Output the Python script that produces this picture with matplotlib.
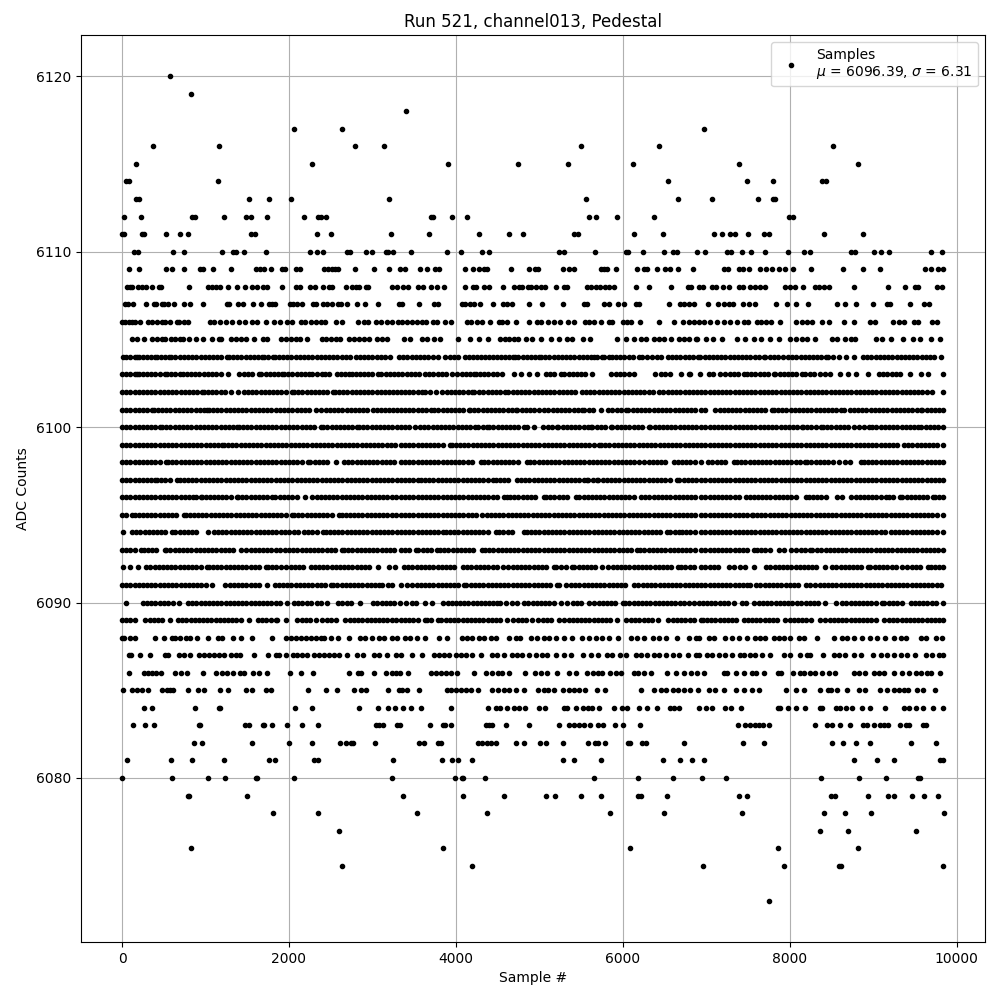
import matplotlib
matplotlib.use("Agg")
import matplotlib.pyplot as plt

s6120 = [572]
s6119 = [824]
s6118 = [3400]
s6117 = [2060, 2636, 6968]
s6116 = [368, 1160, 2792, 3140, 5500, 6436, 8516]
s6115 = [164, 2276, 3904, 4744, 5344, 6124, 7388, 8816]
s6114 = [44, 84, 1148, 6544, 7484, 7796, 8384, 8432]
s6113 = [164, 204, 1520, 1760, 2024, 3200, 5560, 6664, 7064, 7616, 7796, 7828]
s6112 = [20, 224, 836, 868, 1220, 1480, 1548, 1736, 2180, 2348, 2380, 2444, 3696, 3720, 3952, 4132, 5596, 5680, 5932, 6376, 7988, 8036]
s6111 = [0, 28, 240, 268, 524, 692, 788, 1540, 1588, 2336, 2504, 3224, 3676, 4276, 4636, 4804, 5416, 5464, 6136, 6484, 7088, 7184, 7280, 7340, 7496, 7688, 7748, 8408, 8876]
s6110 = [140, 188, 608, 740, 1196, 1332, 1364, 1460, 1724, 2252, 2336, 2408, 2696, 2728, 2924, 2996, 3164, 3188, 3248, 3460, 3892, 4060, 4312, 4396, 5236, 5296, 5668, 6036, 6064, 6244, 6496, 6604, 6644, 6892, 6980, 7248, 7296, 7424, 7532, 7700, 7976, 8168, 8240, 8732, 8780, 9008, 9092, 9188, 9692, 9824]
s6109 = [80, 200, 532, 596, 740, 932, 964, 1088, 1304, 1604, 1652, 1700, 1780, 1920, 1952, 2080, 2128, 2420, 2468, 2516, 2548, 2588, 2792, 3020, 3200, 3336, 3396, 3568, 3652, 3744, 3796, 4108, 4204, 4276, 4336, 4368, 4660, 4876, 4948, 4988, 5284, 5356, 5416, 5736, 5776, 5816, 5920, 6172, 6256, 6296, 6408, 6508, 6568, 6664, 6844, 7208, 7256, 7388, 7440, 7508, 7640, 7720, 7788, 7868, 7940, 8036, 8252, 8636, 8876, 9080, 9620, 9692, 9776, 9840]
s6108 = [60, 100, 124, 188, 236, 284, 356, 440, 472, 800, 1028, 1076, 1124, 1172, 1272, 1376, 1472, 1556, 1612, 1688, 1740, 1916, 2080, 2132, 2252, 2308, 2408, 2480, 2520, 2688, 2760, 2800, 2840, 2920, 2948, 3236, 3300, 3368, 3432, 3544, 3608, 3700, 3772, 3852, 4108, 4204, 4244, 4336, 4396, 4564, 4696, 4756, 4796, 4864, 4896, 4960, 5016, 5072, 5204, 5296, 5328, 5568, 5624, 5676, 5724, 5784, 5836, 5896, 6156, 6316, 6580, 6776, 6816, 6908, 6956, 7068, 7116, 7196, 7268, 7388, 7440, 7520, 7588, 7648, 7708, 7948, 8008, 8068, 8156, 8300, 8348, 8408, 8468, 8768, 9176, 9380, 9496, 9536, 9768, 9828]
s6107 = [32, 76, 128, 284, 380, 412, 476, 508, 548, 620, 740, 812, 968, 1252, 1284, 1388, 1448, 1568, 1664, 1760, 1800, 1832, 2012, 2052, 2100, 2156, 2288, 2328, 2408, 2460, 2516, 2588, 2628, 2696, 2816, 2912, 3068, 3320, 3360, 3556, 3736, 3784, 4076, 4104, 4168, 4216, 4288, 4444, 4564, 4608, 4672, 4876, 5032, 5284, 5536, 5576, 5776, 5836, 5944, 6016, 6156, 6192, 6556, 6688, 6728, 6796, 6848, 7016, 7136, 7208, 7268, 7320, 7436, 7508, 7580, 7832, 7964, 8080, 8216, 8564, 8660, 8792, 8996, 9168, 9200, 9440, 9608, 9668]
s6106 = [0, 40, 80, 120, 160, 220, 308, 360, 420, 480, 520, 572, 652, 680, 740, 788, 1052, 1100, 1172, 1240, 1320, 1400, 1468, 1560, 1620, 1720, 1820, 1892, 1980, 2040, 2140, 2188, 2268, 2320, 2380, 2428, 2560, 2640, 2828, 2900, 2948, 3040, 3100, 3180, 3240, 3308, 3356, 3416, 3476, 3536, 3596, 3636, 3724, 3776, 3868, 3940, 4132, 4184, 4256, 4316, 4408, 4516, 4556, 4612, 4716, 4876, 4976, 5016, 5104, 5176, 5248, 5344, 5416, 5548, 5596, 5656, 5736, 5836, 5876, 6004, 6056, 6104, 6208, 6436, 6616, 6716, 6796, 6848, 6908, 6968, 7048, 7128, 7208, 7288, 7368, 7448, 7496, 7608, 7656, 7720, 7776, 7880, 8072, 8148, 8208, 8268, 8388, 8468, 8652, 8776, 8968, 9020, 9236, 9308, 9368, 9488, 9536, 9708, 9768]
s6105 = [120, 180, 260, 360, 420, 480, 520, 588, 640, 692, 732, 800, 888, 968, 1080, 1160, 1188, 1308, 1360, 1420, 1480, 1580, 1688, 1740, 1900, 1960, 2020, 2080, 2128, 2212, 2392, 2440, 2500, 2560, 2612, 2720, 2780, 2840, 2900, 2960, 3060, 3120, 3172, 3384, 3456, 3596, 3656, 3736, 3808, 4024, 4168, 4276, 4384, 4528, 4584, 4640, 4696, 4744, 4836, 4908, 5020, 5136, 5236, 5336, 5396, 5524, 5608, 5936, 6036, 6136, 6216, 6276, 6376, 6436, 6496, 6576, 6676, 6736, 6796, 6876, 6892, 6992, 7076, 7188, 7364, 7468, 7568, 7656, 7768, 7868, 8000, 8072, 8148, 8208, 8308, 8508, 8568, 8668, 8736, 8788, 9040, 9108, 9208, 9356, 9480, 9560, 9688, 9800]
s6104 = [12,50,100,150,180,200,250,300,350,400,420,470,520,560,588,640,690,740,790,840,890,940,990,1040,1090,1140,1190,1260,1280,1330,1380,1430,1480,1530,1580,1630,1680,1700,1750,1812,1828,1880,1930,1980,2030,2080,2130,2180,2230,2280,2330,2380,2430,2480,2530,2580,2630,2680,2730,2800,2852,2900,2950,3000,3050,3100,3150,3212,3320,3370,3420,3470,3520,3570,3620,3664,3724,3790,3868,3928,3980,4030,4104,4152,4204,4250,4300,4350,4396,4440,4490,4540,4590,4640,4688,4704,4750,4800,4850,4900,4950,4996,5024,5070,5120,5170,5220,5270,5320,5370,5420,5470,5520,5570,5620,5656,5696,5748,5776,5830,5876,5920,5970,6020,6070,6120,6196,6236,6288,6350,6408,6460,6536,6590,6640,6690,6740,6790,6840,6896,6928,6980,7030,7080,7130,7180,7230,7280,7330,7380,7430,7480,7530,7580,7630,7688,7708,7760,7810,7860,7920,7976,8030,8080,8130,8180,8230,8280,8330,8380,8440,8456,8520,8596,8676,8776,8880,8930,8980,9030,9080,9130,9180,9230,9280,9330,9380,9430,9480,9530,9580,9630,9680,9730,9808]
s6103 = [0,50,100,150,180,204,250,300,350,400,450,520,540,590,640,690,732,780,830,868,920,980,1030,1080,1130,1180,1272,1400,1460,1510,1560,1640,1668,1720,1770,1820,1870,1920,1940,1990,2040,2090,2140,2190,2240,2276,2340,2390,2428,2480,2572,2620,2670,2720,2760,2800,2850,2900,2950,3000,3068,3108,3160,3210,3260,3312,3356,3410,3460,3510,3556,3628,3680,3730,3780,3830,3880,3956,4016,4070,4120,4170,4216,4240,4290,4340,4390,4440,4496,4552,4696,4776,4876,4976,5076,5130,5180,5256,5296,5350,5400,5448,5496,5544,5632,5860,5916,5970,6020,6070,6136,6388,6456,6510,6568,6696,6796,6808,6928,7028,7076,7168,7228,7280,7330,7380,7448,7488,7540,7590,7640,7690,7740,7808,7828,7880,7930,7980,8030,8080,8148,8188,8240,8290,8360,8420,8480,8608,8700,8800,8936,9068,9120,9170,9220,9270,9320,9440,9568,9656,9840]
s6102 = [0,50,100,150,200,250,300,350,400,450,500,550,600,650,700,750,800,850,900,960,980,1030,1080,1130,1180,1230,1308,1392,1460,1510,1560,1610,1660,1710,1760,1810,1860,1910,1960,2040,2060,2110,2160,2210,2260,2310,2360,2410,2460,2532,2552,2600,2650,2700,2750,2800,2850,2900,2950,3000,3050,3100,3150,3200,3250,3300,3340,3390,3440,3490,3540,3588,3624,3690,3764,3836,3890,3940,3990,4040,4090,4140,4196,4216,4276,4330,4380,4430,4480,4530,4588,4624,4680,4730,4780,4830,4880,4930,4980,5030,5080,5130,5180,5230,5280,5330,5376,5424,5516,5556,5610,5660,5710,5760,5810,5860,5910,5960,6010,6060,6110,6160,6210,6260,6310,6360,6436,6484,6540,6590,6640,6690,6740,6790,6840,6890,6936,6988,7040,7090,7140,7190,7240,7290,7340,7390,7440,7490,7540,7590,7640,7690,7740,7790,7840,7890,7940,7990,8040,8090,8140,8190,8240,8290,8340,8390,8440,8490,8540,8590,8640,8690,8740,8790,8840,8890,8940,8990,9040,9090,9140,9190,9240,9290,9340,9390,9440,9490,9540,9590,9648,9708,9836]
s6101 = [0,50,100,150,200,250,300,360,380,430,480,530,580,630,680,730,780,830,880,930,980,1020,1040,1090,1140,1190,1240,1290,1340,1390,1440,1490,1540,1590,1640,1690,1740,1790,1840,1890,1940,1990,2040,2090,2140,2190,2240,2320,2380,2440,2490,2540,2590,2640,2690,2740,2790,2840,2890,2940,3012,3052,3100,3150,3200,3250,3300,3340,3390,3440,3490,3540,3590,3640,3696,3736,3790,3840,3890,3940,3990,4040,4090,4156,4168,4220,4270,4320,4370,4420,4470,4520,4570,4620,4670,4716,4736,4790,4840,4890,4940,4996,5052,5104,5160,5210,5260,5310,5360,5410,5460,5516,5536,5590,5640,5736,5824,5876,5930,5980,6036,6064,6120,6170,6220,6270,6320,6370,6420,6470,6520,6570,6620,6670,6720,6770,6820,6870,6936,6988,7108,7160,7210,7260,7310,7360,7410,7460,7510,7560,7610,7660,7710,7788,7808,7860,7910,7960,8010,8060,8110,8160,8210,8260,8310,8360,8410,8460,8510,8560,8616,8656,8728,8768,8820,8870,8920,8970,9020,9070,9120,9170,9220,9270,9320,9370,9420,9470,9520,9568,9588,9640,9690,9740,9790,9840]
s6100 = [0,50,100,150,200,250,300,350,400,460,480,530,580,630,680,730,780,830,880,930,980,1030,1080,1130,1180,1230,1280,1330,1380,1400,1450,1500,1550,1600,1650,1700,1750,1800,1850,1900,1950,2000,2050,2100,2150,2200,2250,2300,2380,2412,2460,2510,2560,2610,2660,2710,2760,2820,2840,2890,2940,2990,3040,3090,3140,3190,3240,3290,3340,3390,3444,3504,3568,3620,3670,3720,3770,3820,3870,3920,3970,4020,4070,4120,4170,4224,4264,4320,4376,4396,4450,4500,4550,4600,4650,4700,4750,4816,4848,4936,5044,5100,5150,5208,5224,5280,5330,5380,5430,5480,5530,5580,5616,5636,5690,5740,5790,5856,5876,5930,5980,6030,6080,6130,6180,6230,6316,6328,6380,6430,6480,6530,6580,6630,6680,6730,6780,6830,6880,6936,6990,7040,7090,7140,7190,7240,7290,7340,7390,7440,7490,7540,7590,7640,7690,7740,7790,7840,7890,7940,7990,8040,8090,8148,8160,8210,8260,8310,8376,8396,8450,8500,8550,8600,8650,8700,8768,8828,8890,8956,8988,9040,9090,9140,9190,9240,9290,9340,9390,9440,9490,9540,9568,9628,9680,9730,9780,9840]
s6099 = [0,50,100,150,200,250,300,350,400,450,500,550,600,650,700,750,800,850,900,950,1000,1050,1100,1150,1200,1220,1270,1320,1370,1420,1470,1520,1570,1620,1670,1720,1770,1820,1870,1920,1970,2020,2070,2120,2170,2220,2270,2320,2370,2420,2470,2520,2570,2620,2670,2720,2770,2820,2870,2920,2970,3020,3070,3120,3170,3220,3270,3340,3390,3440,3490,3540,3590,3640,3690,3740,3790,3840,3924,3948,4000,4050,4100,4150,4200,4250,4300,4350,4400,4450,4500,4550,4600,4650,4700,4750,4800,4850,4900,4950,5000,5050,5100,5150,5200,5250,5300,5350,5400,5450,5500,5550,5600,5650,5716,5736,5790,5840,5890,5940,5990,6040,6090,6140,6190,6240,6290,6340,6390,6440,6490,6540,6590,6640,6690,6740,6790,6840,6890,6940,6990,7040,7090,7140,7190,7240,7290,7340,7390,7440,7490,7540,7590,7640,7690,7740,7790,7840,7890,7940,7990,8040,8090,8140,8190,8240,8290,8340,8390,8440,8490,8540,8590,8640,8690,8740,8790,8840,8890,8940,8990,9040,9090,9140,9190,9240,9290,9368,9416,9470,9520,9570,9620,9670,9720,9770,9840]
s6098 = [0,50,100,150,200,250,300,350,400,450,528,548,600,650,700,750,800,850,900,950,1000,1050,1100,1150,1200,1250,1300,1350,1400,1450,1500,1550,1600,1650,1700,1750,1800,1850,1900,1950,2000,2050,2100,2150,2228,2252,2310,2360,2410,2460,2560,2660,2710,2760,2810,2860,2910,2960,3010,3060,3110,3160,3210,3260,3340,3390,3440,3490,3540,3590,3640,3690,3740,3790,3840,3890,3940,3990,4040,4090,4140,4190,4296,4336,4390,4440,4490,4540,4590,4640,4690,4740,4856,4888,4940,4990,5040,5090,5140,5190,5240,5290,5340,5390,5440,5490,5540,5590,5640,5690,5740,5790,5840,5890,5940,5990,6040,6090,6140,6196,6256,6310,6360,6410,6460,6510,6616,6656,6710,6760,6810,6860,6936,7016,7072,7130,7180,7228,7328,7368,7420,7470,7520,7570,7620,7670,7720,7770,7820,7870,7920,7970,8020,8070,8120,8188,8208,8260,8310,8360,8410,8460,8520,8588,8668,8720,8856,8888,8940,8990,9040,9090,9140,9190,9240,9290,9340,9390,9440,9490,9540,9590,9640,9690,9740,9790,9840]
s6097 = [0,50,100,150,200,250,300,350,400,420,470,520,570,660,692,740,790,840,890,940,990,1040,1090,1140,1190,1240,1290,1340,1390,1440,1490,1540,1590,1640,1690,1740,1790,1840,1890,1940,1990,2040,2090,2140,2190,2240,2290,2340,2390,2440,2490,2540,2590,2640,2690,2740,2790,2840,2890,2940,2990,3040,3090,3140,3190,3240,3290,3340,3390,3440,3490,3544,3576,3630,3680,3730,3780,3830,3880,3930,3980,4030,4080,4130,4180,4230,4280,4330,4380,4448,4476,4530,4580,4630,4728,4780,4828,4880,4930,4980,5030,5080,5130,5180,5230,5280,5330,5380,5430,5480,5530,5568,5584,5640,5696,5704,5760,5810,5860,5910,5960,6010,6060,6110,6160,6210,6260,6310,6360,6410,6460,6510,6560,6648,6676,6730,6780,6830,6880,6936,6990,7040,7090,7140,7190,7240,7290,7340,7390,7440,7490,7540,7590,7640,7690,7740,7790,7840,7890,7940,7990,8040,8090,8140,8190,8240,8290,8340,8390,8440,8490,8540,8590,8640,8690,8740,8790,8840,8890,8940,8990,9040,9090,9140,9190,9240,9290,9340,9390,9440,9490,9540,9590,9640,9690,9740,9790,9840]
s6096 = [0,50,100,150,200,250,300,350,400,450,500,550,600,650,700,750,800,850,890,940,952,1000,1050,1100,1150,1200,1250,1300,1372,1388,1440,1490,1540,1590,1640,1690,1740,1800,1832,1890,1940,1990,2040,2100,2188,2276,2330,2380,2430,2480,2530,2580,2630,2680,2730,2780,2830,2880,2930,2980,3030,3080,3130,3180,3230,3280,3340,3390,3440,3490,3540,3590,3640,3690,3740,3790,3840,3890,3940,3990,4040,4090,4140,4190,4240,4290,4340,4390,4440,4490,4576,4608,4644,4700,4750,4800,4850,4900,4950,5056,5080,5130,5180,5230,5280,5330,5436,5476,5530,5580,5630,5680,5730,5780,5830,5880,5930,5980,6030,6080,6136,6216,6270,6320,6370,6420,6470,6520,6570,6620,6670,6720,6770,6820,6870,6936,6990,7040,7090,7140,7190,7240,7290,7340,7390,7480,7520,7570,7620,7670,7720,7770,7820,7870,7920,7970,8020,8070,8200,8228,8280,8330,8380,8430,8568,8628,8740,8790,8840,8890,8940,8990,9040,9090,9160,9188,9240,9320,9348,9400,9450,9500,9550,9600,9650,9720,9740,9790,9840]
s6095 = [0,50,120,152,200,250,300,350,400,450,500,550,600,650,740,760,810,860,910,960,1010,1060,1110,1160,1210,1260,1310,1360,1410,1460,1510,1560,1610,1660,1710,1760,1810,1860,1910,1960,2032,2060,2110,2160,2210,2260,2310,2360,2410,2460,2510,2600,2632,2680,2730,2780,2830,2880,2930,2980,3030,3080,3130,3180,3230,3280,3340,3390,3440,3490,3540,3590,3640,3690,3740,3790,3840,3890,3940,3990,4040,4090,4140,4190,4240,4316,4368,4416,4470,4520,4570,4620,4670,4720,4770,4820,4870,4920,4970,5020,5070,5120,5170,5220,5270,5320,5370,5420,5470,5520,5570,5620,5670,5720,5770,5820,5870,5920,5970,6020,6070,6120,6170,6220,6270,6320,6370,6420,6470,6520,6570,6620,6670,6720,6770,6820,6870,6936,6990,7040,7090,7140,7190,7240,7290,7340,7390,7440,7490,7548,7560,7610,7660,7710,7760,7810,7860,7910,7960,8010,8060,8110,8160,8210,8260,8310,8360,8410,8460,8510,8560,8610,8660,8710,8760,8810,8860,8910,8960,9010,9060,9110,9160,9210,9260,9310,9360,9410,9460,9510,9560,9610,9660,9710,9760,9840]
s6094 = [8,120,170,220,270,320,370,420,470,520,600,640,690,740,790,840,890,1028,1100,1150,1200,1250,1300,1350,1400,1450,1500,1550,1600,1650,1700,1750,1800,1850,1900,1950,2000,2060,2112,2180,2230,2280,2330,2412,2440,2490,2540,2590,2640,2690,2740,2790,2840,2890,2940,2990,3040,3090,3140,3190,3240,3290,3340,3390,3440,3490,3540,3590,3640,3690,3740,3790,3848,3876,3930,3980,4030,4080,4130,4180,4230,4280,4330,4380,4476,4516,4570,4620,4670,4816,4856,4896,4950,5000,5050,5100,5150,5200,5250,5300,5350,5400,5450,5500,5550,5600,5650,5700,5750,5800,5850,5900,5950,6000,6050,6100,6150,6200,6250,6300,6350,6400,6450,6524,6560,6620,6676,6708,6760,6810,6860,6936,6990,7048,7088,7140,7190,7240,7290,7340,7390,7440,7490,7540,7590,7640,7690,7740,7790,7840,7890,7940,7990,8040,8090,8140,8190,8240,8290,8340,8390,8440,8490,8540,8590,8640,8690,8740,8790,8840,8890,8940,8990,9040,9090,9140,9208,9256,9310,9360,9410,9460,9510,9560,9610,9660,9710,9760,9840]
s6093 = [0,50,100,150,228,260,310,360,410,512,532,580,630,680,730,780,830,880,930,980,1030,1080,1130,1180,1230,1280,1330,1420,1488,1540,1590,1640,1690,1740,1790,1840,1890,1952,2000,2050,2100,2150,2200,2250,2300,2350,2400,2450,2500,2550,2640,2660,2710,2760,2810,2860,2910,2960,3010,3060,3110,3160,3210,3260,3340,3390,3440,3516,3544,3600,3650,3700,3776,3808,3860,3910,3960,4010,4060,4110,4160,4210,4316,4344,4400,4450,4500,4550,4600,4650,4700,4750,4800,4850,4900,4950,5000,5050,5100,5150,5200,5250,5300,5350,5400,5450,5500,5550,5600,5650,5700,5750,5800,5850,5900,5950,6000,6050,6100,6176,6208,6260,6310,6360,6410,6460,6510,6560,6610,6660,6710,6760,6810,6860,6936,6990,7040,7090,7140,7190,7240,7290,7340,7390,7440,7490,7568,7608,7660,7710,7760,7868,7936,8020,8080,8130,8180,8248,8272,8330,8380,8430,8480,8530,8580,8630,8680,8730,8780,8830,8880,8930,8980,9030,9088,9128,9180,9230,9280,9330,9380,9430,9480,9530,9580,9630,9680,9730,9780,9840]
s6092 = [8,92,188,284,340,390,440,490,540,590,640,690,740,790,840,890,940,1020,1040,1090,1140,1190,1240,1290,1340,1390,1440,1490,1540,1590,1640,1720,1748,1800,1850,1908,1964,2020,2070,2120,2170,2268,2308,2360,2410,2460,2510,2560,2610,2660,2710,2760,2810,2860,2910,2960,3068,3200,3268,3376,3430,3480,3530,3580,3630,3680,3730,3780,3830,3880,3930,3980,4084,4128,4184,4240,4290,4340,4390,4440,4490,4568,4624,4680,4730,4780,4830,4880,4930,4980,5030,5080,5176,5200,5260,5320,5396,5416,5470,5520,5570,5620,5670,5756,5824,5880,5930,5980,6030,6080,6130,6180,6230,6280,6330,6380,6430,6480,6530,6580,6664,6696,6750,6800,6850,6936,6990,7040,7090,7140,7268,7328,7400,7468,7568,7720,7770,7820,7870,7920,7970,8020,8070,8120,8170,8220,8270,8320,8428,8508,8560,8610,8660,8710,8760,8810,8860,8936,8968,9020,9070,9120,9170,9220,9270,9348,9408,9460,9510,9560,9656,9688,9740,9790,9840]
s6091 = [0,50,100,150,200,250,300,350,400,450,500,550,600,650,700,750,800,850,900,950,1000,1080,1232,1290,1340,1390,1440,1490,1540,1590,1640,1740,1828,1880,1930,1980,2030,2080,2130,2180,2230,2280,2330,2380,2430,2500,2532,2580,2630,2680,2730,2780,2830,2880,2930,2980,3030,3080,3120,3188,3232,3340,3416,3476,3530,3580,3630,3680,3730,3780,3830,3880,3930,3980,4030,4096,4124,4180,4230,4280,4330,4380,4430,4480,4530,4580,4630,4680,4730,4780,4830,4880,4930,4980,5030,5080,5130,5216,5236,5324,5376,5430,5480,5530,5580,5630,5680,5730,5780,5830,5880,5930,5980,6030,6136,6184,6240,6290,6340,6390,6440,6490,6540,6590,6640,6690,6740,6790,6840,6890,6936,6990,7040,7090,7140,7190,7240,7290,7340,7390,7440,7488,7528,7592,7650,7700,7750,7800,7850,7900,7950,8000,8050,8100,8200,8240,8308,8360,8410,8460,8510,8560,8610,8660,8710,8760,8810,8860,8910,8960,9010,9060,9110,9168,9208,9260,9310,9360,9410,9460,9510,9560,9610,9660,9710,9760,9816]
s6090 = [52,252,300,348,400,450,500,550,612,684,788,840,890,940,990,1040,1090,1140,1190,1240,1290,1340,1390,1440,1490,1540,1590,1640,1690,1740,1790,1840,1890,1980,2060,2110,2160,2210,2260,2340,2380,2460,2588,2640,2700,2748,2852,3012,3060,3110,3160,3210,3260,3336,3408,3470,3524,3624,3716,3848,3900,3950,4000,4050,4100,4150,4200,4250,4300,4350,4400,4450,4496,4528,4600,4676,4728,4816,4870,4920,4970,5020,5070,5120,5170,5256,5328,5400,5450,5500,5600,5656,5710,5760,5810,5860,5910,6008,6024,6080,6130,6180,6230,6280,6330,6380,6430,6480,6530,6580,6630,6680,6730,6796,6848,6908,6960,7010,7060,7110,7160,7210,7260,7328,7428,7480,7576,7628,7680,7730,7780,7830,7880,7930,7980,8030,8088,8136,8190,8240,8290,8340,8428,8560,8628,8680,8730,8780,8830,8880,8930,8980,9030,9108,9136,9190,9240,9290,9340,9456,9496,9550,9600,9650,9700,9750,9840]
s6089 = [0,50,100,156,272,340,380,430,480,580,668,720,770,820,870,920,970,1020,1070,1120,1170,1220,1270,1320,1370,1420,1520,1628,1680,1730,1780,1840,1860,1964,2100,2150,2200,2250,2324,2396,2450,2500,2564,2672,2730,2780,2830,2880,2930,2980,3030,3080,3130,3180,3230,3280,3340,3390,3440,3490,3540,3624,3648,3700,3784,3824,3880,3930,3980,4030,4080,4130,4180,4230,4280,4330,4380,4430,4480,4530,4616,4688,4740,4790,4840,4916,4984,5040,5090,5140,5236,5296,5350,5400,5450,5500,5550,5600,5650,5700,5750,5800,5850,5936,6044,6100,6150,6200,6250,6300,6350,6424,6544,6600,6650,6700,6750,6800,6850,6936,6960,7010,7060,7110,7160,7210,7260,7310,7360,7448,7496,7550,7600,7650,7700,7750,7800,7850,7948,8000,8050,8100,8150,8200,8250,8368,8428,8480,8530,8580,8630,8680,8730,8780,8830,8880,8930,8980,9030,9128,9188,9240,9290,9340,9390,9440,9490,9540,9590,9640,9690,9740,9790,9840]
s6088 = [0, 28, 100, 156, 392, 500, 596, 640, 692, 764, 812, 892, 1028, 1148, 1196, 1328, 1424, 1556, 1796, 1964, 2020, 2080, 2140, 2200, 2260, 2320, 2380, 2420, 2500, 2588, 2724, 2852, 2912, 2996, 3080, 3140, 3236, 3296, 3396, 3456, 3536, 3632, 3796, 3896, 4076, 4136, 4196, 4276, 4336, 4416, 4476, 4636, 4720, 4768, 4896, 4968, 5056, 5116, 5196, 5296, 5392, 5516, 5596, 5676, 5756, 5836, 5944, 6096, 6168, 6256, 6356, 6436, 6516, 6648, 6796, 6876, 6908, 7028, 7088, 7228, 7308, 7388, 7488, 7588, 7640, 7708, 7808, 7868, 7928, 8008, 8108, 8168, 8328, 8528, 8628, 8688, 8768, 8868, 8968, 9048, 9148, 9248, 9328, 9388, 9568, 9628, 9748, 9828]
s6087 = [80, 108, 220, 332, 520, 552, 676, 740, 812, 924, 980, 1040, 1100, 1160, 1220, 1308, 1360, 1408, 1580, 1748, 1840, 1880, 1964, 2052, 2100, 2160, 2220, 2300, 2360, 2420, 2480, 2540, 2600, 2700, 2816, 2888, 3020, 3080, 3180, 3280, 3348, 3476, 3596, 3736, 3796, 3856, 3916, 3996, 4056, 4116, 4196, 4296, 4436, 4496, 4576, 4676, 4736, 4796, 4876, 4956, 5036, 5096, 5196, 5296, 5384, 5524, 5620, 5704, 5816, 5876, 5964, 6040, 6156, 6216, 6296, 6376, 6436, 6516, 6596, 6676, 6776, 6876, 6908, 7008, 7068, 7148, 7228, 7308, 7400, 7456, 7520, 7588, 7668, 7768, 7928, 8000, 8128, 8208, 8248, 8396, 8528, 8588, 8668, 8768, 8856, 8996, 9096, 9168, 9248, 9328, 9408, 9496, 9628, 9708, 9788, 9840]
s6086 = [80, 260, 308, 360, 412, 468, 632, 704, 776, 968, 1124, 1196, 1256, 1328, 1412, 1460, 1568, 1640, 1736, 2008, 2144, 2288, 2724, 2828, 2864, 3020, 3164, 3232, 3288, 3336, 3424, 3696, 3756, 3816, 3876, 3936, 4016, 4216, 4360, 4436, 4504, 4556, 4636, 4828, 4948, 5016, 5088, 5212, 5356, 5436, 5568, 5648, 5704, 5756, 5848, 5916, 5984, 6136, 6184, 6256, 6340, 6532, 6640, 6736, 6816, 6888, 6968, 7208, 7248, 7352, 7448, 7548, 7600, 7688, 7856, 7896, 8036, 8128, 8168, 8248, 8308, 8388, 8468, 8544, 8768, 8828, 8908, 9008, 9068, 9128, 9248, 9348, 9428, 9508, 9568, 9648, 9688, 9800]
s6085 = [8, 116, 180, 236, 312, 476, 540, 572, 612, 788, 908, 980, 1172, 1268, 1484, 1556, 1724, 1784, 2228, 2444, 2576, 2780, 2864, 2924, 3184, 3320, 3356, 3416, 3552, 3896, 3936, 3996, 4064, 4116, 4176, 4264, 4432, 4504, 4576, 4636, 4716, 4816, 4984, 5056, 5104, 5176, 5284, 5356, 5416, 5476, 5544, 5696, 5784, 6220, 6376, 6456, 6516, 6596, 6664, 6736, 6808, 6896, 7036, 7100, 7208, 7352, 7448, 7548, 7628, 7952, 8072, 8168, 8360, 8456, 8500, 8568, 8688, 8832, 8900, 9080, 9168, 9248, 9308, 9368, 9416, 9528, 9596, 9736]
s6084 = [260, 356, 872, 1160, 1176, 2072, 2276, 2840, 3068, 3188, 3272, 3364, 3460, 3580, 3940, 4384, 4480, 4528, 4616, 4696, 4756, 4828, 4996, 5064, 5296, 5328, 5440, 5524, 5584, 5632, 5716, 5892, 5988, 6056, 6196, 6292, 6412, 6568, 6616, 6676, 6916, 6992, 7064, 7228, 7296, 7412, 7856, 7880, 7976, 8072, 8180, 8360, 8388, 8552, 8608, 8680, 8744, 8864, 8968, 9144, 9368, 9428, 9508, 9596, 9712, 9836]
s6083 = [128, 272, 380, 920, 932, 1472, 1520, 1688, 1700, 1796, 1976, 2156, 2348, 3044, 3080, 3132, 3300, 3336, 3688, 3844, 3864, 3940, 4360, 4396, 4436, 4600, 4876, 5236, 5356, 5416, 5476, 5536, 5608, 5704, 5764, 5908, 6004, 6208, 7376, 7468, 7520, 7588, 7628, 7680, 7748, 8300, 8448, 8508, 8608, 8720, 8876, 8928, 9008, 9080, 9128, 9176, 9320, 9388, 9428, 9596, 9632]
s6082 = [860, 956, 1556, 2000, 2276, 2612, 2684, 2740, 2772, 3036, 3556, 3616, 3784, 3816, 4264, 4316, 4376, 4416, 4480, 4720, 4816, 5008, 5080, 5284, 5584, 5668, 5704, 5788, 6064, 6088, 6232, 6280, 6732, 7436, 7688, 8504, 8640, 8792, 8960, 9452, 9752]
s6081 = [56, 584, 836, 1220, 1760, 1832, 2300, 2348, 3248, 3832, 3952, 4024, 4192, 5284, 5416, 5740, 6484, 6688, 6832, 6968, 8768, 9044, 9248, 9800, 9836]
s6080 = [0, 596, 1028, 1232, 1604, 1620, 2060, 3236, 3988, 4072, 4088, 4348, 5656, 6184, 6604, 6944, 7232, 8372, 8828, 9152, 9536, 9560]
s6079 = [788, 800, 1496, 3364, 4084, 4576, 5080, 5188, 5500, 5740, 6184, 6216, 6532, 7388, 7484, 8492, 8540, 8936, 9176, 9248, 9464, 9608, 9776]
s6078 = [1808, 2348, 3532, 4372, 5848, 6496, 7424, 8408, 8660, 8972, 9848]
s6077 = [2600, 8360, 8696, 9512]
s6076 = [824, 3844, 6088, 7856, 8816]
s6075 = [2636, 4192, 6956, 7928, 8588, 8616, 9836]
s6073 = [7748]

levels = {
    6120: s6120, 6119: s6119, 6118: s6118, 6117: s6117, 6116: s6116, 6115: s6115, 6114: s6114,
    6113: s6113, 6112: s6112, 6111: s6111, 6110: s6110, 6109: s6109, 6108: s6108, 6107: s6107,
    6106: s6106, 6105: s6105, 6104: s6104, 6103: s6103, 6102: s6102, 6101: s6101, 6100: s6100,
    6099: s6099, 6098: s6098, 6097: s6097, 6096: s6096, 6095: s6095, 6094: s6094, 6093: s6093,
    6092: s6092, 6091: s6091, 6090: s6090, 6089: s6089, 6088: s6088, 6087: s6087, 6086: s6086,
    6085: s6085, 6084: s6084, 6083: s6083, 6082: s6082, 6081: s6081, 6080: s6080, 6079: s6079,
    6078: s6078, 6077: s6077, 6076: s6076, 6075: s6075, 6073: s6073,
}

xs, ys = [], []
for level, samples in levels.items():
    xs.extend(samples)
    ys.extend([level] * len(samples))

fig, ax = plt.subplots(figsize=(10, 10), dpi=100)
ax.plot(xs, ys, "k.", label="Samples\n$\\mu$ = 6096.39, $\\sigma$ = 6.31")
ax.set_title("Run 521, channel013, Pedestal")
ax.set_xlabel("Sample #")
ax.set_ylabel("ADC Counts")
ax.grid(True)
ax.legend(loc="upper right")
fig.subplots_adjust(left=0.081, right=0.985, top=0.965, bottom=0.058)
fig.savefig("out.png", dpi=100)
